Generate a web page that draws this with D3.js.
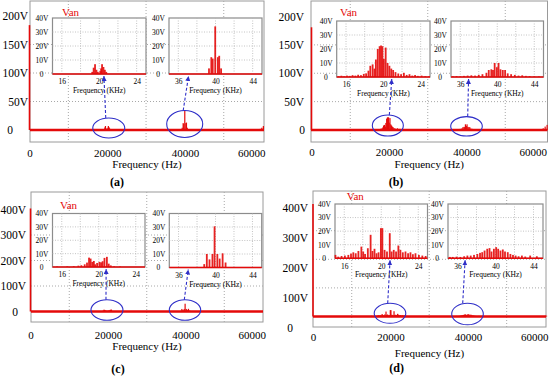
<!DOCTYPE html>
<html>
<head>
<meta charset="utf-8">
<script src="https://cdn.jsdelivr.net/npm/d3@7"></script>
<style>
  body { margin: 0; background: #fff; }
  svg { display: block; }
</style>
</head>
<body>
<div id="fig"></div>
<script>
// spectra, [kHz, V]
var harm20a = [[19.25,1.5],[19.4,4.5],[19.55,7],[19.7,3],[19.85,1.5],[20.1,2],[20.2,4],[20.3,7],[20.45,5],[20.6,3],[20.75,1.5]];
var harm40a = [[39.3,4],[39.55,12],[39.7,11],[39.97,34],[40.25,12],[40.4,13],[40.6,4]];

var harm20b = [[15.2,0.6],[15.5,0.9],[15.8,0.5],[16.1,1.0],[16.4,0.8],[16.7,1.3],[17.0,1.0],[17.3,1.6],[17.6,1.3],[17.9,2.2],
  [18.15,2.6],[18.4,4.5],[18.6,8],[18.85,9],[19.05,6],[19.2,12.5],[19.4,20],[19.6,22],[19.75,22.5],[19.9,22],[20.05,13],
  [20.25,21],[20.45,10],[20.65,8],[20.85,6],[21.05,5],[21.3,3.5],[21.6,2.5],[21.9,2],[22.2,3],[22.5,1.5],[22.8,2],
  [23.1,1],[23.4,1.4],[23.7,0.8],[24.1,1],[24.5,0.6],[24.9,0.5]];
var harm40b = [[35.2,0.5],[35.6,0.7],[36.0,0.5],[36.4,0.8],[36.8,1],[37.2,1.2],[37.6,1],[38.0,1.5],[38.4,2],[38.83,3],
  [39.08,5],[39.36,5.5],[39.54,5],[39.72,10],[39.96,7],[40.14,10],[40.35,5.5],[40.6,5],[40.85,5],[41.13,2.6],[41.5,2],
  [41.9,1.5],[42.3,1],[42.7,1.2],[43.1,0.8],[43.5,0.7],[44.0,0.5],[44.5,0.4]];

var harm20c = [[15.5,0.4],[16.6,0.5],[17.3,0.6],[17.8,1],[18.12,1.3],[18.48,2],[18.73,3.3],[18.95,7],[19.12,6.3],[19.3,3.8],
  [19.47,4.5],[19.61,2],[19.82,3],[20.07,3.8],[20.25,3.5],[20.42,4.3],[20.62,6.8],[20.88,7.6],[21.08,2.5],[21.3,1.2],
  [21.66,0.5],[22.3,0.4]];
var harm40c = [[38.78,2.5],[39.06,10],[39.35,6],[39.67,10],[39.9,30.5],[40.2,10],[40.45,6.6],[40.77,10.5],[41.09,3.7]];

var harm20d = [[15.05,2.5],[15.35,1.2],[15.71,1.7],[16.07,2],[16.44,2.5],[16.73,3.5],[16.98,4.4],[17.24,3.7],[17.53,5.4],
  [17.85,8.6],[18.05,5],[18.25,3.2],[18.55,7.4],[18.85,17.3],[19.05,5.4],[19.27,7],[19.49,3.7],[19.71,4.4],[19.96,22.2],
  [20.12,22.2],[20.36,6.2],[20.62,5],[20.92,18.5],[21.12,5],[21.35,6.2],[21.6,5],[21.85,9.4],[22.07,6.2],[22.33,4.4],
  [22.62,5],[22.9,3.7],[23.16,4.4],[23.42,3],[23.7,3.7],[24.07,2.5],[24.44,2],[24.8,1.7]];
var harm40d = [[35.2,1],[35.5,1],[35.9,1.2],[36.3,1],[36.7,1.5],[37.04,2],[37.39,2],[37.74,2.5],[38.09,3.2],[38.37,4],
  [38.6,4.5],[38.85,5.7],[39.13,7],[39.37,7.5],[39.58,5],[39.83,7],[40.07,8.2],[40.28,7],[40.52,5.7],[40.77,6.5],
  [41.0,5],[41.29,4.5],[41.57,3.2],[41.84,2.5],[42.12,2],[42.43,1.5],[42.78,2],[43.13,1.3],[43.65,2],[44.35,1.5]];

// small rise at the right end of each main plot, [Hz, V]
var edgeA = [[59400,2],[59800,4],[60200,7]];
var edgeB = [[59800,3],[60300,6],[60800,9]];
var edgeC = [[59800,1]];
var edgeD = [[59900,2],[60300,3]];

var fundamental = [184, 181, 404, 393];   // component at 0 Hz

var mainTicksX = [0, 20000, 40000, 60000];
var mainGridX = [10000, 30000, 50000];
var yTicksLow = [0, 50, 100, 150, 200];
var yTicksHigh = [0, 100, 200, 300, 400];
var insetTicks20 = [16, 20, 24];
var insetTicks40 = [36, 40, 44];
var insetGrid20 = [16, 18, 20, 22, 24];
var insetGrid40 = [36, 38, 40, 42, 44];
var insetTicksY = [0, 10, 20, 30, 40];
var panelNames = ["(a)", "(b)", "(c)", "(d)"];

var RED = "#e40a0a";
var BLUE = "#2f2fc8";
var FONT = "Liberation Serif";

var svg = d3.select("#fig").append("svg")
  .attr("width", 550)
  .attr("height", 377)
  .attr("font-family", FONT);

var defs = svg.append("defs");
defs.append("marker")
  .attr("id", "arr")
  .attr("viewBox", "0 0 6 6")
  .attr("refX", 6).attr("refY", 3)
  .attr("markerWidth", 5).attr("markerHeight", 5)
  .attr("markerUnits", "userSpaceOnUse")
  .attr("orient", "auto")
  .append("path")
  .attr("d", "M0,0L6,3L0,6Z")
  .attr("fill", BLUE);

// pixel layout of each panel
var panels = [
  { name: panelNames[0], low: harm20a, high: harm40a, edge: edgeA, fund: fundamental[0], yTicks: yTicksLow, yMax: 200,
    frame: {l: 30, t: 1, r: 264, b: 142}, xr: [29.5, 262.6], yr: [130, 16], labYr: null,
    yLabX: 28, zeroX: 10, tickTop: 149, titleY: 168, nameXY: [117, 186], vanXY: [62, 16],
    insL: {xr: [52.5, 146], yr: [74, 18]}, insR: {xr: [169, 262], yr: [74, 18]},
    ell: [{f: 20400, dy: -2, rx: 16, ry: 10, sdx: -3, k: 20.5}, {f: 39950, dy: -6, rx: 18, ry: 13.5, sdx: -1.5, k: 37.1}] },
  { name: panelNames[1], low: harm20b, high: harm40b, edge: edgeB, fund: fundamental[1], yTicks: yTicksLow, yMax: 200,
    frame: {l: 311, t: 1, r: 547.5, b: 142}, xr: [311.5, 544], yr: [130, 16.5], labYr: null,
    yLabX: 304, zeroX: 302, tickTop: 148, titleY: 168, nameXY: [396, 186], vanXY: [340, 16],
    insL: {xr: [336.7, 430], yr: [77, 21]}, insR: {xr: [451, 543.5], yr: [77, 21]},
    ell: [{f: 19700, dy: -4.5, rx: 15.5, ry: 10.5, sdx: 1.5, k: 20.9}, {f: 40000, dy: -3.7, rx: 15.8, ry: 9.7, sdx: 1.2, k: 36.9}] },
  { name: panelNames[2], low: harm20c, high: harm40c, edge: edgeC, fund: fundamental[2], yTicks: yTicksHigh, yMax: 400,
    frame: {l: 31, t: 192, r: 263, b: 322}, xr: [30.5, 263], yr: [311.5, 209.5], labYr: null,
    yLabX: 26, zeroX: 15, tickTop: 331, titleY: 350, nameXY: [118, 373], vanXY: [60, 209],
    insL: {xr: [52.5, 145], yr: [267, 213.5]}, insR: {xr: [169.3, 261.7], yr: [267.5, 213.5]},
    ell: [{f: 19735, dy: -1.5, rx: 16, ry: 10.3, sdx: -1, k: 20.8}, {f: 39870, dy: -1.5, rx: 15.7, ry: 10.3, sdx: -0.7, k: 37.05}] },
  { name: panelNames[3], low: harm20d, high: harm40d, edge: edgeD, fund: fundamental[3], yTicks: yTicksHigh, yMax: 400,
    frame: {l: 313, t: 191, r: 546, b: 327}, xr: [313, 545.4], yr: [316.5, 202.1], labYr: [328.3, 208.3],
    yLabX: 308, zeroX: 290, tickTop: 333, titleY: 357, nameXY: [396.7, 372], vanXY: [346.7, 200],
    insL: {xr: [335, 427.5], yr: [258.3, 204]}, insR: {xr: [448, 543], yr: [258.3, 204]},
    ell: [{f: 19880, dy: -3.2, rx: 15.8, ry: 10, sdx: -2.3, k: 20.95}, {f: 39890, dy: -2.5, rx: 15.8, ry: 10.8, sdx: -4.8, k: 36.8}] }
];

function styleAxis(ax, size) {
  ax.attr("font-family", FONT);
  ax.select(".domain").remove();
  ax.selectAll("text")
    .attr("font-size", size)
    .attr("fill", "#000");
}

function drawInset(g, box, dom, data, ticks, grid) {
  var ix = d3.scaleLinear().domain(dom).range(box.xr);
  var iy = d3.scaleLinear().domain([0, 40]).range(box.yr);

  g.append("rect")
    .attr("x", box.xr[0]).attr("y", box.yr[1])
    .attr("width", box.xr[1] - box.xr[0])
    .attr("height", box.yr[0] - box.yr[1])
    .attr("fill", "#fff")
    .attr("stroke", "#8c8c8c")
    .attr("stroke-width", 1.2);

  g.selectAll(null).data(grid).enter().append("line")
    .attr("x1", d => ix(d)).attr("x2", d => ix(d))
    .attr("y1", box.yr[1]).attr("y2", box.yr[0])
    .attr("stroke", "#b5b5b5").attr("stroke-width", 0.8)
    .attr("stroke-dasharray", "1,1.5");
  g.selectAll(null).data([10, 20, 30]).enter().append("line")
    .attr("x1", box.xr[0]).attr("x2", box.xr[1])
    .attr("y1", d => iy(d)).attr("y2", d => iy(d))
    .attr("stroke", "#b5b5b5").attr("stroke-width", 0.8)
    .attr("stroke-dasharray", "1,1.5");

  g.selectAll(null).data(data).enter().append("rect")
    .attr("x", d => ix(d[0]) - 0.9)
    .attr("width", 1.8)
    .attr("y", d => iy(d[1]))
    .attr("height", d => iy(0) - iy(d[1]))
    .attr("fill", RED)
    .attr("fill-opacity", 0.9);

  g.append("line")
    .attr("x1", box.xr[0]).attr("x2", box.xr[1])
    .attr("y1", iy(0)).attr("y2", iy(0))
    .attr("stroke", RED).attr("stroke-width", 1.5);

  var bx = g.append("g")
    .attr("transform", `translate(0, ${box.yr[0] + 5})`)
    .call(d3.axisBottom(ix).tickValues(ticks).tickSize(0).tickPadding(0));
  styleAxis(bx, 7.5);

  var ly = g.append("g")
    .attr("transform", `translate(${box.xr[0] - 4}, 0)`)
    .call(d3.axisLeft(iy).tickValues(insetTicksY).tickSize(0).tickPadding(0)
      .tickFormat(d => d ? d + "V" : "0"));
  styleAxis(ly, 7.5);
  ly.selectAll(".tick").filter(d => d === 0).select("text").attr("x", -5);

  g.append("text")
    .attr("x", (box.xr[0] + box.xr[1]) / 2)
    .attr("y", box.yr[0] + 19)
    .attr("text-anchor", "middle")
    .attr("font-size", 7.5)
    .attr("fill", "#000")
    .text("Frequency (KHz)");

  return ix;
}

panels.forEach(function (p) {
  var g = svg.append("g");
  var f = p.frame;
  var x = d3.scaleLinear().domain([0, 60000]).range(p.xr);
  var y = d3.scaleLinear().domain([0, p.yMax]).range(p.yr);
  var yLab = p.labYr ? d3.scaleLinear().domain([0, p.yMax]).range(p.labYr) : y;

  // frame
  g.append("rect")
    .attr("x", f.l).attr("y", f.t)
    .attr("width", f.r - f.l).attr("height", f.b - f.t)
    .attr("fill", "#fff")
    .attr("stroke", "#9a9a9a").attr("stroke-width", 1);

  // dotted grid
  g.selectAll(null).data(mainGridX).enter().append("line")
    .attr("x1", d => x(d)).attr("x2", d => x(d))
    .attr("y1", f.t).attr("y2", f.b)
    .attr("stroke", "#a8a8a8").attr("stroke-dasharray", "1,2");
  g.selectAll(null).data(p.yTicks.slice(1, -1)).enter().append("line")
    .attr("x1", f.l).attr("x2", f.r)
    .attr("y1", d => y(d)).attr("y2", d => y(d))
    .attr("stroke", "#a8a8a8").attr("stroke-dasharray", "1,2");

  // main spectrum
  var spec = p.low.concat(p.high).map(d => [d[0] * 1000, d[1]]).concat(p.edge);
  g.selectAll(null).data(spec).enter().append("rect")
    .attr("x", d => x(d[0]) - 0.6)
    .attr("width", 1.2)
    .attr("y", d => y(d[1]))
    .attr("height", d => y(0) - y(d[1]))
    .attr("fill", RED);

  g.append("line")
    .attr("x1", f.l).attr("x2", f.r)
    .attr("y1", y(0)).attr("y2", y(0))
    .attr("stroke", RED).attr("stroke-width", 2.6);

  g.append("line")
    .attr("x1", x(0)).attr("x2", x(0))
    .attr("y1", y(0)).attr("y2", y(p.fund))
    .attr("stroke", RED).attr("stroke-width", 1.6);

  // axes
  var ax = g.append("g")
    .attr("transform", `translate(0, ${p.tickTop})`)
    .call(d3.axisBottom(x).tickValues(mainTicksX).tickSize(0).tickPadding(0).tickFormat(d3.format("d")));
  styleAxis(ax, 11);
  ax.selectAll(".tick").filter(d => d === 60000).select("text")
    .attr("text-anchor", "end").attr("x", 2.5);

  var ay = g.append("g")
    .attr("transform", `translate(${p.yLabX}, 0)`)
    .call(d3.axisLeft(yLab).tickValues(p.yTicks).tickSize(0).tickPadding(0)
      .tickFormat(d => d ? d + "V" : "0"));
  styleAxis(ay, 11.5);
  ay.selectAll(".tick").filter(d => d === 0).select("text")
    .attr("text-anchor", "middle").attr("x", p.zeroX - p.yLabX);

  g.append("text")
    .attr("x", (f.l + f.r) / 2)
    .attr("y", p.titleY)
    .attr("text-anchor", "middle")
    .attr("font-size", 11)
    .attr("fill", "#000")
    .text("Frequency (Hz)");

  g.append("text")
    .attr("x", p.nameXY[0]).attr("y", p.nameXY[1])
    .attr("text-anchor", "middle")
    .attr("font-size", 12)
    .attr("font-weight", "bold")
    .attr("fill", "#000")
    .text(p.name);

  // insets
  var ixL = drawInset(g, p.insL, [15, 25], p.low, insetTicks20, insetGrid20);
  var ixR = drawInset(g, p.insR, [35, 45], p.high, insetTicks40, insetGrid40);

  g.append("text")
    .attr("x", p.vanXY[0]).attr("y", p.vanXY[1])
    .attr("font-size", 11)
    .attr("fill", RED)
    .text("Van");

  // ellipses and arrows to the zoomed views
  p.ell.forEach(function (e, i) {
    var cx = x(e.f), cy = y(0) + e.dy;
    g.append("ellipse")
      .attr("cx", cx).attr("cy", cy)
      .attr("rx", e.rx).attr("ry", e.ry)
      .attr("fill", "none")
      .attr("stroke", BLUE).attr("stroke-width", 1.1);
    var box = i === 0 ? p.insL : p.insR;
    var ix = i === 0 ? ixL : ixR;
    g.append("line")
      .attr("x1", cx + e.sdx).attr("y1", cy - e.ry)
      .attr("x2", ix(e.k)).attr("y2", box.yr[0] + 2)
      .attr("stroke", BLUE).attr("stroke-width", 1.1)
      .attr("stroke-dasharray", "3,2")
      .attr("marker-end", "url(#arr)");
  });
});
</script>
</body>
</html>
